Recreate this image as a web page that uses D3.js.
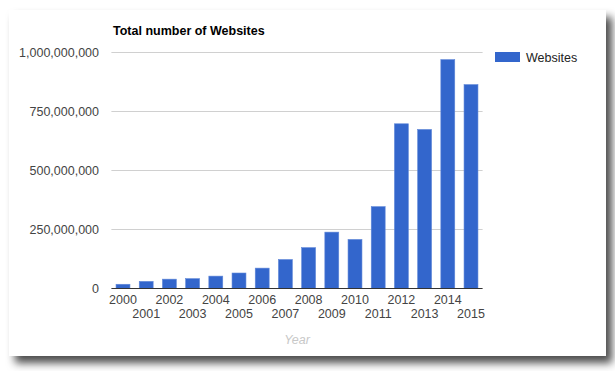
<!DOCTYPE html>
<html>
<head>
<meta charset="utf-8">
<script src="https://cdn.jsdelivr.net/npm/d3@7/dist/d3.min.js"></script>
<style>
html,body{margin:0;padding:0;background:#fff;}
svg{display:block;}
text{font-family:Arial,"Liberation Sans",sans-serif;}
</style>
</head>
<body>
<svg id="chart" width="615" height="371"></svg>
<script>
const years = ["2000","2001","2002","2003","2004","2005","2006","2007","2008","2009","2010","2011","2012","2013","2014","2015"];
const websites = [17087182,29254370,38760373,40912332,51611646,64780617,85507314,121892559,172338726,238027855,206956723,346004403,697089489,672985183,968882453,863105652];
const yTicks = [0,250000000,500000000,750000000,1000000000];
const seriesName = "Websites";
const chartTitle = "Total number of Websites";
const xTitle = "Year";

(function(){
const svg = d3.select("#chart");
const defs = svg.append("defs");
const f = defs.append("filter").attr("id","sh").attr("x","-10%").attr("y","-10%").attr("width","125%").attr("height","130%");
f.append("feDropShadow").attr("dx",6).attr("dy",7).attr("stdDeviation",4).attr("flood-color","#000").attr("flood-opacity",0.7);

svg.append("rect").attr("x",9).attr("y",10).attr("width",597).attr("height",346)
  .attr("fill","#fff").attr("filter","url(#sh)");

const pLeft = 111.4, pRight = 482.6, pTop = 52.3, pBottom = 288.3;
const x = d3.scaleBand().domain(years).range([pLeft,pRight]).paddingInner(0.4).paddingOuter(0.2);
const y = d3.scaleLinear().domain([0,1000000000]).range([pBottom,pTop]);
const fmt = d3.format(",");

svg.append("g").selectAll("line").data(yTicks.filter(d=>d>0)).join("line")
  .attr("x1",pLeft).attr("x2",pRight)
  .attr("y1",d=>Math.round(y(d))+0.5).attr("y2",d=>Math.round(y(d))+0.5)
  .attr("stroke","#d0d0d0").attr("stroke-width",1);

svg.append("g").selectAll("text").data(yTicks).join("text")
  .attr("x",99).attr("y",d=>y(d)).attr("dy","0.36em")
  .attr("text-anchor","end").attr("font-size","12.5px").attr("fill","#444")
  .text(d=>fmt(d));

svg.append("g").selectAll("rect").data(years).join("rect")
  .attr("x",d=>x(d)).attr("width",x.bandwidth())
  .attr("y",(d,i)=>y(websites[i])).attr("height",(d,i)=>pBottom-y(websites[i]))
  .attr("fill","#3366cc").attr("stroke","#5f87d8").attr("stroke-width",0.6);

svg.append("line").attr("x1",pLeft).attr("x2",pRight)
  .attr("y1",Math.round(pBottom)+0.5).attr("y2",Math.round(pBottom)+0.5)
  .attr("stroke","#333").attr("stroke-width",1);

svg.append("g").selectAll("text").data(years).join("text")
  .attr("x",d=>x(d)+x.bandwidth()/2)
  .attr("y",(d,i)=> i%2===0 ? 304 : 317.5)
  .attr("text-anchor","middle").attr("font-size","12.5px").attr("fill","#444")
  .text(d=>d);

svg.append("text").attr("x",(pLeft+pRight)/2).attr("y",344)
  .attr("text-anchor","middle").attr("font-size","12.5px").attr("font-style","italic")
  .attr("fill","#c8c8c8").text(xTitle);

svg.append("text").attr("x",113).attr("y",35).attr("font-size","12.5px").attr("font-weight","bold")
  .attr("fill","#000").text(chartTitle);

svg.append("rect").attr("x",495).attr("y",52).attr("width",25).attr("height",10).attr("fill","#3366cc");
svg.append("text").attr("x",526).attr("y",57).attr("dy","0.36em").attr("font-size","12.5px")
  .attr("fill","#222").text(seriesName);
})();
</script>
</body>
</html>
